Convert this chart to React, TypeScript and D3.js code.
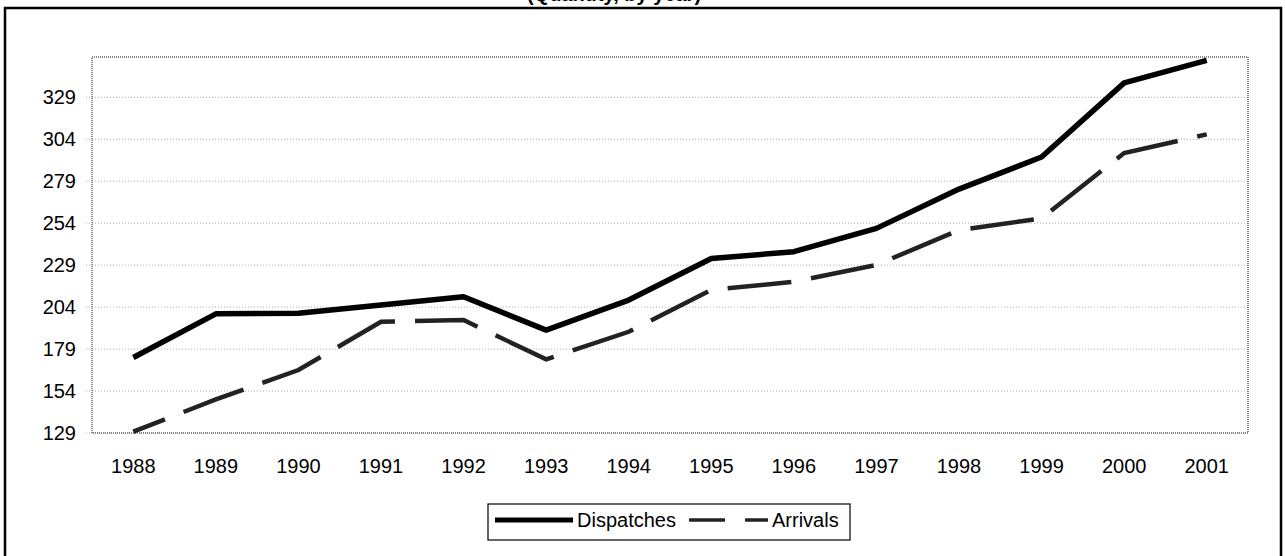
import React, { useEffect, useRef } from 'react';
import * as d3 from 'd3';

const YEARS = ['1988', '1989', '1990', '1991', '1992', '1993', '1994', '1995', '1996', '1997', '1998', '1999', '2000', '2001'];
const DISPATCHES = [174, 200, 200.3, 205.2, 210.2, 190.3, 208.2, 233, 237, 250.9, 274.3, 293.4, 337.6, 351];
const ARRIVALS = [129.8, 149, 166.5, 195.3, 196.3, 172.9, 189.3, 214.2, 219.1, 229.1, 249.9, 256.9, 295.8, 306.9];
const Y_TICKS = [129, 154, 179, 204, 229, 254, 279, 304, 329];
const SERIES_NAMES = ['Dispatches', 'Arrivals'];
const TITLE = '(Quantity, by year)';

function App() {
  const svgRef = useRef(null);

  useEffect(() => {
    const svg = d3.select(svgRef.current);
    svg.selectAll('*').remove();

    const width = 1285;
    const height = 556;
    const plot = { left: 92, right: 1248, top: 57, bottom: 433 };
    const font = '"Liberation Sans", Arial, sans-serif';

    const x = d3.scaleBand().domain(YEARS).range([plot.left, plot.right]).padding(0);
    const y = d3.scaleLinear().domain([129, 353]).range([plot.bottom, plot.top]);
    const cx = d => x(d) + x.bandwidth() / 2;

    // outer frame + cut-off title
    svg.append('rect')
      .attr('x', 5).attr('y', 8)
      .attr('width', 1276).attr('height', 560)
      .attr('fill', 'none').attr('stroke', '#000').attr('stroke-width', 2.5);

    svg.append('text')
      .attr('x', 614).attr('y', 1)
      .attr('text-anchor', 'middle')
      .attr('font-family', font).attr('font-size', 20).attr('font-weight', 'bold')
      .text(TITLE);

    // gridlines
    svg.append('g')
      .selectAll('line')
      .data(Y_TICKS)
      .enter().append('line')
      .attr('x1', 86).attr('x2', plot.right)
      .attr('y1', d => y(d)).attr('y2', d => y(d))
      .attr('stroke', '#aaa').attr('stroke-width', 1)
      .attr('stroke-dasharray', '1,2');

    // plot border
    svg.append('rect')
      .attr('x', plot.left).attr('y', plot.top)
      .attr('width', plot.right - plot.left).attr('height', plot.bottom - plot.top)
      .attr('fill', 'none').attr('stroke', '#666').attr('stroke-width', 1.5)
      .attr('stroke-dasharray', '1,1');

    // y labels
    svg.append('g')
      .selectAll('text')
      .data(Y_TICKS)
      .enter().append('text')
      .attr('x', 76).attr('y', d => y(d)).attr('dy', '0.36em')
      .attr('text-anchor', 'end')
      .attr('font-family', font).attr('font-size', 20)
      .text(d => d);

    // x labels
    svg.append('g')
      .selectAll('text')
      .data(YEARS)
      .enter().append('text')
      .attr('x', d => cx(d)).attr('y', 473)
      .attr('text-anchor', 'middle')
      .attr('font-family', font).attr('font-size', 20)
      .text(d => d);

    const line = d3.line().x(d => cx(d.year)).y(d => y(d.value));

    svg.append('path')
      .datum(YEARS.map((year, i) => ({ year, value: ARRIVALS[i] })))
      .attr('d', line)
      .attr('fill', 'none').attr('stroke', '#222').attr('stroke-width', 4.5)
      .attr('stroke-dasharray', '64,20').attr('stroke-dashoffset', 30);

    svg.append('path')
      .datum(YEARS.map((year, i) => ({ year, value: DISPATCHES[i] })))
      .attr('d', line)
      .attr('fill', 'none').attr('stroke', '#000').attr('stroke-width', 5.5)
      .attr('stroke-linejoin', 'round');

    // legend
    const lg = svg.append('g');
    lg.append('rect')
      .attr('x', 488).attr('y', 504).attr('width', 362).attr('height', 36)
      .attr('fill', '#fff').attr('stroke', '#000').attr('stroke-width', 1.2);
    lg.append('line')
      .attr('x1', 495).attr('x2', 573).attr('y1', 520).attr('y2', 520)
      .attr('stroke', '#000').attr('stroke-width', 5);
    lg.append('text')
      .attr('x', 577).attr('y', 520).attr('dy', '0.36em')
      .attr('font-family', font).attr('font-size', 20)
      .text(SERIES_NAMES[0]);
    lg.append('line')
      .attr('x1', 689).attr('x2', 768).attr('y1', 520).attr('y2', 520)
      .attr('stroke', '#222').attr('stroke-width', 3.5)
      .attr('stroke-dasharray', '36,20');
    lg.append('text')
      .attr('x', 772).attr('y', 520).attr('dy', '0.36em')
      .attr('font-family', font).attr('font-size', 20)
      .text(SERIES_NAMES[1]);

    svg.attr('width', width).attr('height', height);
  }, []);

  return (
    <svg
      ref={svgRef}
      width={1285}
      height={556}
      style={{ position: 'absolute', left: 0, top: 0, display: 'block', background: '#fff' }}
    />
  );
}

export default App;
